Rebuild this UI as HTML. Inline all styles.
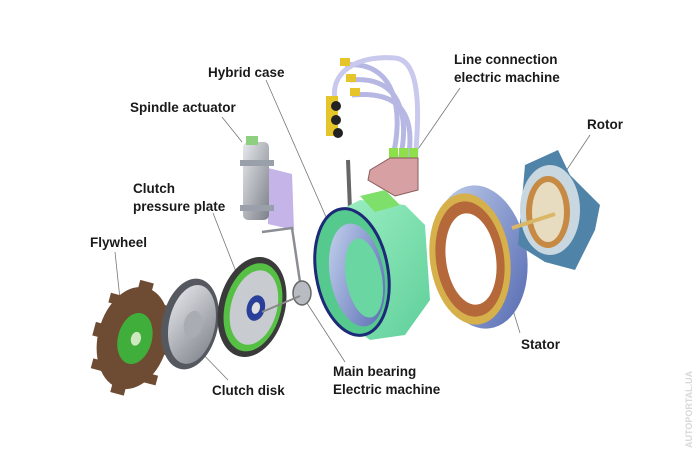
<!DOCTYPE html>
<html><head><meta charset="utf-8"><style>
html,body{margin:0;padding:0;background:#fff;}
svg{display:block}
text{font-family:"Liberation Sans",sans-serif;font-weight:bold;font-size:13.5px;fill:#1a1a1a}
</style></head><body>
<svg width="700" height="461" viewBox="0 0 700 461" xmlns="http://www.w3.org/2000/svg">
<defs>
<linearGradient id="blue" x1="0" y1="0" x2="1" y2="1"><stop offset="0" stop-color="#c9d6f0"/><stop offset="1" stop-color="#5166b0"/></linearGradient>
<linearGradient id="green" x1="0" y1="0" x2="1" y2="1"><stop offset="0" stop-color="#9ef0c4"/><stop offset="1" stop-color="#5fcf9a"/></linearGradient>
<linearGradient id="gray" x1="0" y1="0" x2="1" y2="1"><stop offset="0" stop-color="#e6e8ec"/><stop offset="1" stop-color="#7c8088"/></linearGradient>
</defs>
<rect width="700" height="461" fill="#fff"/>
<g stroke="#777" stroke-width="0.8" fill="none">
<line x1="115" y1="252" x2="122" y2="318"/>
<line x1="213" y1="213" x2="240" y2="282"/>
<line x1="228" y1="380" x2="196" y2="347"/>
<line x1="222" y1="117" x2="242" y2="142"/>
<line x1="266" y1="80" x2="344" y2="258"/>
<line x1="345" y1="362" x2="305" y2="300"/>
<line x1="460" y1="88" x2="416" y2="152"/>
<line x1="590" y1="135" x2="552" y2="192"/>
<line x1="520" y1="333" x2="497" y2="258"/>
</g>
<!-- flywheel -->
<g transform="rotate(15 133 338)">
<ellipse cx="133" cy="338" rx="35" ry="52" fill="#6e4b33"/>
<g fill="#6e4b33"><rect x="125" y="280" width="14" height="10"/><rect x="125" y="386" width="14" height="10"/><rect x="93" y="332" width="10" height="14"/><rect x="163" y="332" width="10" height="14"/><rect x="100" y="300" width="12" height="10"/><rect x="155" y="368" width="12" height="10"/><rect x="155" y="298" width="12" height="10"/><rect x="100" y="368" width="12" height="10"/></g>
<ellipse cx="135" cy="338" rx="17" ry="26" fill="#3fae3a"/>
<ellipse cx="136" cy="338" rx="5" ry="7" fill="#cfe8c0"/>
</g>
<!-- clutch disk -->
<g transform="rotate(12 190 324)">
<ellipse cx="190" cy="324" rx="28" ry="46" fill="#55595f"/>
<ellipse cx="192" cy="324" rx="23" ry="40" fill="url(#gray)"/>
<ellipse cx="193" cy="324" rx="9" ry="14" fill="#a9adb3"/>
</g>
<!-- pressure plate -->
<g transform="rotate(15 252 307)">
<ellipse cx="252" cy="307" rx="33" ry="51" fill="#3a3a3a"/>
<ellipse cx="253" cy="307" rx="28" ry="45" fill="#55c044"/>
<ellipse cx="254" cy="307" rx="23" ry="38" fill="#c8ccd0"/>
<ellipse cx="256" cy="307" rx="9" ry="13" fill="#2a3f9a"/>
<ellipse cx="256" cy="307" rx="4" ry="6" fill="#e0e0e0"/>
</g>
<!-- spindle actuator -->
<polygon points="268,168 292,174 294,230 268,224" fill="#c4b4e8"/>
<rect x="243" y="142" width="26" height="78" rx="5" fill="url(#gray)"/>
<rect x="240" y="160" width="34" height="6" fill="#9aa0aa"/>
<rect x="240" y="205" width="34" height="6" fill="#9aa0aa"/>
<rect x="246" y="136" width="12" height="9" fill="#8fd080"/>
<path d="M262 232 L292 228 L300 282" stroke="#8a8e94" stroke-width="2.5" fill="none"/>
<ellipse cx="302" cy="293" rx="9" ry="12" fill="#b8bcc2" stroke="#666" stroke-width="1.5"/>
<line x1="262" y1="312" x2="300" y2="296" stroke="#888" stroke-width="2"/>
<!-- cables -->
<g fill="none" stroke="#b7b7e4" stroke-width="5">
<path d="M345 65 C395 60 405 110 392 160"/>
<path d="M350 80 C400 75 410 115 400 160"/>
<path d="M352 95 C405 90 415 120 408 160"/>
<path d="M335 100 C330 70 360 55 395 58 C420 60 420 110 415 160" stroke="#c9c9ee"/>
</g>
<g fill="#e6c52a"><rect x="340" y="58" width="10" height="8"/><rect x="346" y="74" width="10" height="8"/><rect x="350" y="88" width="10" height="8"/><rect x="326" y="96" width="12" height="40"/></g>
<g fill="#222"><circle cx="336" cy="106" r="5"/><circle cx="336" cy="120" r="5"/><circle cx="338" cy="133" r="5"/></g>
<g fill="#8ee04a"><rect x="389" y="148" width="9" height="10"/><rect x="399" y="148" width="9" height="10"/><rect x="409" y="148" width="9" height="10"/></g>
<path d="M370 170 L390 158 L418 158 L418 190 L395 196 L368 180 Z" fill="#d7a1a3" stroke="#8a5a5c" stroke-width="1"/>
<line x1="348" y1="160" x2="350" y2="210" stroke="#666" stroke-width="4"/>
<!-- hybrid case -->
<path d="M330 215 L360 200 L405 205 L425 225 L430 300 L405 335 L370 340 L330 310 Z" fill="url(#green)"/>
<ellipse cx="352" cy="272" rx="36" ry="64" fill="#56c98f" stroke="#1c2a78" stroke-width="3" transform="rotate(-10 352 272)"/>
<ellipse cx="357" cy="275" rx="27" ry="52" fill="url(#blue)" transform="rotate(-10 357 275)"/>
<ellipse cx="364" cy="278" rx="18" ry="40" fill="#6ad7a2" transform="rotate(-10 364 278)"/>
<path d="M360 196 L385 190 L400 205 L375 212 Z" fill="#7ee06a"/>
<!-- stator -->
<ellipse cx="480" cy="257" rx="47" ry="72" fill="url(#blue)" transform="rotate(-8 480 257)"/>
<ellipse cx="470" cy="259" rx="40" ry="66" fill="#d6b04a" transform="rotate(-8 470 259)"/>
<ellipse cx="470" cy="259" rx="34" ry="58" fill="#b5683a" transform="rotate(-8 470 259)"/>
<ellipse cx="471" cy="259" rx="25" ry="46" fill="#fff" transform="rotate(-8 471 259)"/>
<!-- rotor -->
<path d="M525 165 L558 150 L570 175 L600 205 L595 230 L575 270 L545 262 L518 245 Z" fill="#4f84a8"/>
<ellipse cx="550" cy="210" rx="30" ry="45" fill="#c9d8e0"/>
<ellipse cx="548" cy="212" rx="22" ry="36" fill="#c78a44"/>
<ellipse cx="548" cy="212" rx="16" ry="30" fill="#e8dcc0"/>
<line x1="512" y1="228" x2="555" y2="214" stroke="#d9b767" stroke-width="4"/>
<!-- labels -->
<text x="208" y="77">Hybrid case</text>
<text x="454" y="64">Line connection</text>
<text x="454" y="82">electric machine</text>
<text x="130" y="112">Spindle actuator</text>
<text x="587" y="129">Rotor</text>
<text x="133" y="193">Clutch</text>
<text x="133" y="211">pressure plate</text>
<text x="90" y="247">Flywheel</text>
<text x="521" y="349">Stator</text>
<text x="333" y="376">Main bearing</text>
<text x="333" y="394">Electric machine</text>
<text x="212" y="395">Clutch disk</text>
<text x="0" y="0" transform="translate(692 448) rotate(-90)" style="font-size:9px;fill:#d8d8d8">AUTOPORTAL.UA</text>
</svg>
</body></html>
